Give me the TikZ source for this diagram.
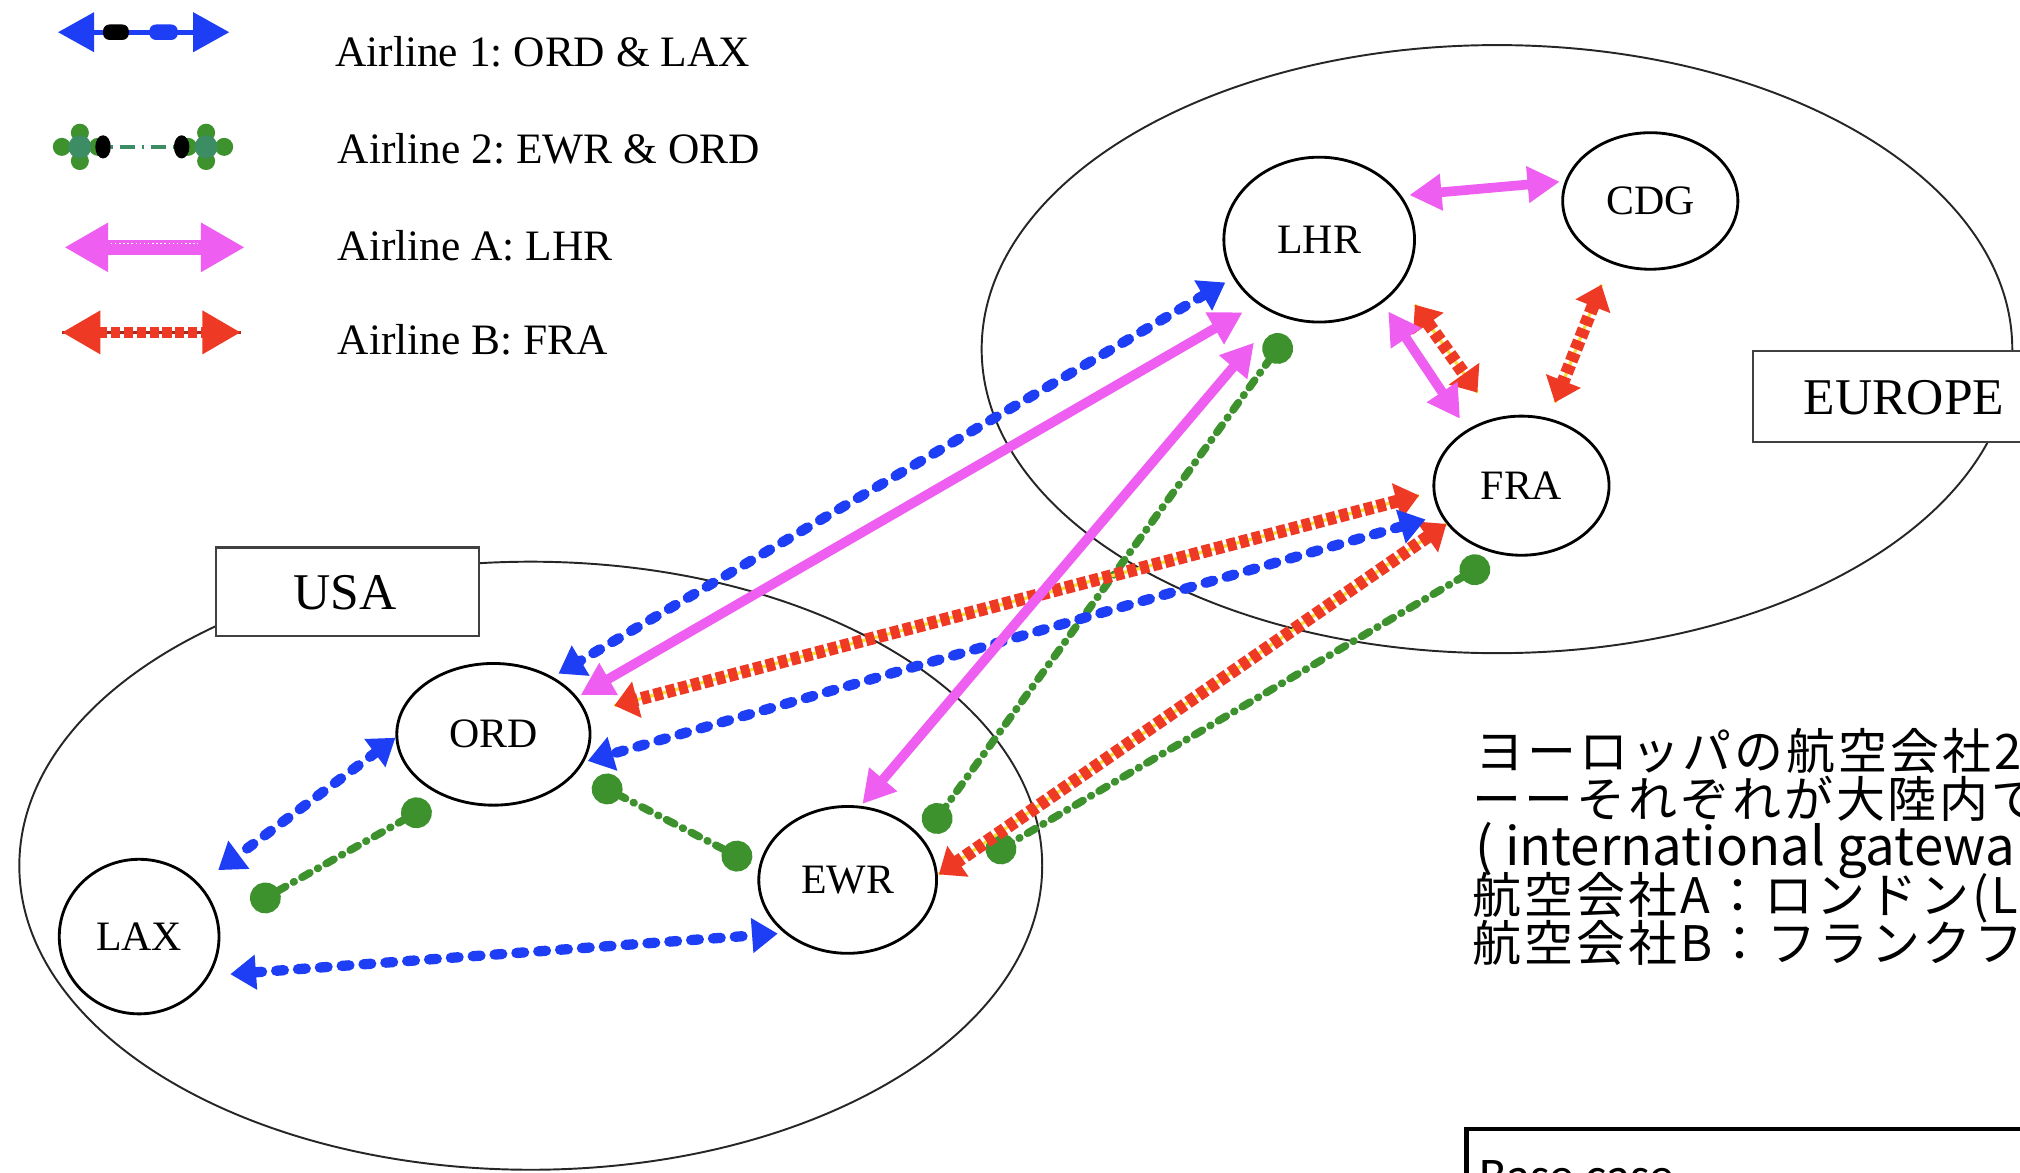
\documentclass[tikz,border=0pt]{standalone}
\usepackage{fontspec}
\setmainfont{Liberation Serif}
\newfontfamily\jpfont[LetterSpace=6]{Noto Sans CJK JP}
\newfontfamily\jplatin{Noto Sans CJK JP}
\newfontfamily\calfont{Carlito}
\usetikzlibrary{arrows.meta,shapes.geometric}
\definecolor{airblue}{RGB}{30,62,246}
\definecolor{airgreen}{RGB}{62,146,46}
\definecolor{airteal}{RGB}{60,140,100}
\definecolor{airmag}{RGB}{238,94,240}
\definecolor{airred}{RGB}{238,58,36}
\definecolor{airyellow}{RGB}{245,225,60}
\frenchspacing
\begin{document}
\begin{tikzpicture}[x=1pt,y=-1pt,
  region/.style={ellipse, draw=black!85, line width=1.5pt, inner sep=0pt},
  regionbox/.style={draw=black!75, line width=1.6pt, fill=white, inner sep=0pt},
  regionlabel/.style={font=\fontsize{40}{44}\selectfont, inner sep=0pt},
  airport/.style={ellipse, draw=black, line width=2.2pt, fill=white, inner sep=0pt, font=\fontsize{32.5}{36}\selectfont},
  legtext/.style={anchor=base west, inner sep=0pt, font=\fontsize{33.7}{38}\selectfont\frenchspacing},
  jptext/.style={anchor=base west, inner sep=0pt, font=\jpfont\fontsize{38}{40}\selectfont},
  air1/.style={draw=airblue, line width=8pt, line cap=round, dash pattern=on 6pt off 11pt,
    {Triangle[length=20pt,width=26pt]}-{Triangle[length=20pt,width=26pt]}},
  air2/.style={draw=airgreen, line width=6pt, line cap=round, dash pattern=on 7pt off 7pt on 0.5pt off 7pt,
    {Circle[length=24pt]}-{Circle[length=24pt]}},
  airA/.style={draw=airmag, line width=7.5pt,
    {Triangle[length=25pt,width=27pt]}-{Triangle[length=25pt,width=27pt]}},
  airB/.style={draw=airred, line width=10pt, dash pattern=on 7pt off 3pt,
    preaction={draw=airyellow, line width=2.5pt, solid, -},
    {Triangle[length=18pt,width=28pt]}-{Triangle[length=18pt,width=28pt]}},
]
\useasboundingbox (0,0) rectangle (1568,910);
\clip (0,0) rectangle (1568,910);

% regions
\node[region, minimum width=794pt, minimum height=472pt] (usaregion) at (412,672) {};
\node[region, minimum width=800pt, minimum height=472pt] (euregion) at (1162,271) {};
\node[regionbox, minimum width=204pt, minimum height=69pt] (usabox) at (270,459.5) {};
\node[regionlabel] (usalabel) at (268,460) {USA};
\node[regionbox, anchor=north west, minimum width=260pt, minimum height=70pt] (eubox) at (1360,272) {};
\node[regionlabel] (eulabel) at (1478,309) {EUROPE};

% airports
\node[airport, minimum width=148pt, minimum height=128pt] (LHR) at (1024,186) {LHR\vphantom{\rule{0pt}{12pt}}};
\node[airport, minimum width=136pt, minimum height=106pt] (CDG) at (1281,156) {CDG};
\node[airport, minimum width=136pt, minimum height=108pt] (FRA) at (1181,377) {FRA};
\node[airport, minimum width=150pt, minimum height=110pt] (ORD) at (383,570) {ORD};
\node[airport, minimum width=138pt, minimum height=114pt] (EWR) at (658,683) {EWR};
\node[airport, minimum width=124pt, minimum height=120pt] (LAX) at (108,727) {LAX};

% Airline 2 (green)
\draw[air2, shorten <=14pt, shorten >=7pt] (LHR.255) -- (EWR.29);
\draw[air2, shorten <=11pt, shorten >=45pt] (FRA.253) -- (EWR.-4);
\draw[air2, shorten <=13pt, shorten >=29pt] (ORD.232) -- (LAX.9);
\draw[air2, shorten <=15pt, shorten >=7pt] (ORD.-25) -- (EWR.172);

% Airline B (red)
\draw[airB, shorten <=11pt, shorten >=22pt] (FRA.184) -- (ORD.13);
\draw[airB, shorten <=0pt, shorten >=1pt] (FRA.207) -- (EWR.3);
\draw[airB, shorten <=19pt, shorten >=24pt] (LHR.-29) -- (FRA.111);
\draw[airB, shorten <=18pt, shorten >=13pt] (CDG.237) -- (FRA.68);

% Airline 1 (blue)
\draw[air1, shorten <=7pt, shorten >=5pt] (LHR.204) -- (ORD.44);
\draw[air1, shorten <=12pt, shorten >=3pt] (FRA.200) -- (ORD.-17);
\draw[air1, shorten <=0pt, shorten >=18pt] (ORD.182) -- (LAX.41);
\draw[air1, shorten <=16pt, shorten >=5pt] (LAX.-29) -- (EWR.220);

% Airline A (magenta)
\draw[airA, shorten <=13pt, shorten >=3pt] (LHR.226) -- (ORD.24);
\draw[airA, shorten <=28pt, shorten >=2pt] (LHR.241) -- (EWR.80);
\draw[airA, shorten <=6pt, shorten >=4pt] (LHR.28) -- (CDG.167);
\draw[airA, shorten <=8pt, shorten >=10pt] (LHR.-45) -- (FRA.134);

% legend
\coordinate (k1a) at (45,25);
\coordinate (k1b) at (178,25);
\draw[draw=airblue, line width=4pt, {Triangle[length=28pt,width=30pt]}-{Triangle[length=28pt,width=30pt]}] (k1a) -- (k1b);
\fill[black, rounded corners=5pt] (80,19) rectangle (100,31);
\fill[airblue, rounded corners=5pt] (116,19) rectangle (138,31);

\coordinate (k2a) at (62,114);
\coordinate (k2b) at (160,114);
\draw[draw=airteal, line width=3pt, dash pattern=on 2pt off 5pt on 12pt off 5pt] (k2a) -- (k2b);
\foreach \c in {k2a,k2b}{
  \fill[airgreen] (\c) ++(-14,0) circle (7pt);
  \fill[airgreen] (\c) ++(14,0) circle (7pt);
  \fill[airgreen] (\c) ++(0,-11) circle (7pt);
  \fill[airgreen] (\c) ++(0,11) circle (7pt);
  \fill[airteal] (\c) circle (9pt);
}
\fill[black] (80,114) ellipse [x radius=6, y radius=9];
\fill[black] (141,114) ellipse [x radius=6, y radius=9];

\coordinate (k3a) at (50,192);
\coordinate (k3b) at (190,192);
\draw[draw=airmag, line width=12pt, {Triangle[length=34pt,width=36pt]}-{Triangle[length=34pt,width=36pt]}] (k3a) -- (k3b);
\draw[white, line width=1.2pt, dotted] (86,189) -- (154,189);

\coordinate (k4a) at (48,258);
\coordinate (k4b) at (187,258);
\draw[draw=airred, line width=9pt, dash pattern=on 7pt off 3pt,
  preaction={draw=airred!70!black, line width=2pt, solid, -},
  {Triangle[length=30pt,width=32pt]}-{Triangle[length=30pt,width=32pt]}] (k4a) -- (k4b);

\node[legtext] (leg1) at (260,52) {Airline 1: ORD \& LAX};
\node[legtext] (leg2) at (262,127) {Airline 2: EWR \& ORD};
\node[legtext] (leg3) at (262,202) {Airline A: LHR};
\node[legtext] (leg4) at (262,275) {Airline B: FRA};

% Japanese note
\node[jptext] (jp1) at (1145,597.5) {ヨーロッパの航空会社2};
\node[jptext] (jp2) at (1143,634.8) {ーーそれぞれが大陸内で};
\node[anchor=base west, inner sep=0pt, font=\jplatin\fontsize{41}{44}\selectfont] (jp3) at (1145,671.6) {( international gatewa};
\node[jptext] (jp4) at (1143,709.4) {航空会社A：ロンドン(L};
\node[jptext] (jp5) at (1143,746.7) {航空会社B：フランクフ};

% base case box
\node[draw=black, line width=3.5pt, anchor=north west, minimum width=500pt, minimum height=150pt, inner sep=0pt] (basebox) at (1136.5,874.5) {};
\node[anchor=base west, inner sep=0pt, font=\calfont\fontsize{38.7}{42}\selectfont] (basetext) at (1148,926) {Base case};
\end{tikzpicture}
\end{document}
